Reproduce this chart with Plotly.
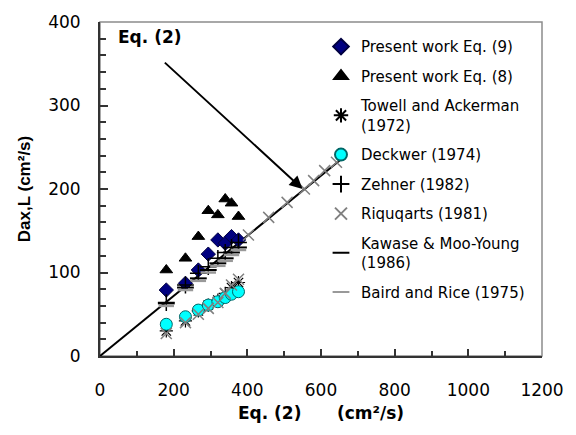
import plotly.graph_objects as go

# ---- data ----
x_vals = [180, 232, 267, 294, 320, 340, 357, 376]

eq9_y = [79, 87, 103, 122, 139, 135, 143, 139]
eq8_y = [103, 117, 143, 174, 169, 188, 183, 167]
towell_y = [30, 42, 54, 61, 67, 75, 82, 88]
deckwer_y = [38, 47, 55, 61, 65, 70, 74, 77]
zehner_y = [64, 85, 99, 107, 117, 124, 130, 136]
kawase_y = [63, 82, 93, 103, 111, 117, 124, 130]
baird_y = [60, 79, 90, 100, 108, 114, 121, 127]

riq_x = [180, 232, 267, 294, 320, 340, 357, 376, 403, 458, 508, 555, 580, 610, 642]
riq_y = [27, 40, 50, 57, 64, 75, 85, 92, 145, 166, 184, 200, 210, 222, 232]

eq2_x = [0, 653]
eq2_y = [0, 235]

arrow_from = (172, 353)
arrow_to = (550, 200)
label_pos = (137, 382)

x_ticks = [0, 200, 400, 600, 800, 1000, 1200]
y_ticks = [0, 100, 200, 300, 400]

LEG_FONT = dict(family="DejaVu Sans", size=15, color="black")

fig = go.Figure()

# Eq. (2) line
fig.add_trace(go.Scatter(x=eq2_x, y=eq2_y, mode="lines",
                         line=dict(color="black", width=2), showlegend=False,
                         hoverinfo="skip", legendgroup="g0"))

def add(name, x, y, marker, group):
    fig.add_trace(go.Scatter(x=x, y=y, mode="markers", name=name,
                             marker=marker, legendgroup=group))

add("Present work Eq. (9)", x_vals, eq9_y,
    dict(symbol="diamond", size=11, color="#000080", line=dict(color="#000040", width=1)), "g1")
add("Present work Eq. (8)", x_vals, eq8_y,
    dict(symbol="triangle-up", size=11, color="black", line=dict(color="black", width=1)), "g2")
add("Towell and Ackerman<br>(1972)", x_vals, towell_y,
    dict(symbol="asterisk", size=11, color="black", line=dict(color="black", width=1.2)), "g3")
add("Deckwer (1974)", x_vals, deckwer_y,
    dict(symbol="circle", size=12, color="#00FFFF", line=dict(color="#006666", width=1)), "g4")
add("Zehner (1982)", x_vals, zehner_y,
    dict(symbol="cross-thin", size=12, color="black", line=dict(color="black", width=1.5)), "g5")
add("Riquqarts (1981)", riq_x, riq_y,
    dict(symbol="x-thin", size=11, color="#808080", line=dict(color="#808080", width=1.5)), "g6")
add("Kawase & Moo-Young<br>(1986)", x_vals, kawase_y,
    dict(symbol="line-ew", size=12, color="black", line=dict(color="black", width=2)), "g7")
add("Baird and Rice (1975)", x_vals, baird_y,
    dict(symbol="line-ew", size=11, color="#999999", line=dict(color="#999999", width=2.5)), "g8")

# arrow + label
fig.add_annotation(x=arrow_to[0], y=arrow_to[1], ax=arrow_from[0], ay=arrow_from[1],
                   xref="x", yref="y", axref="x", ayref="y", text="",
                   showarrow=True, arrowhead=2, arrowsize=1.3, arrowwidth=2,
                   arrowcolor="black")
fig.add_annotation(x=label_pos[0], y=label_pos[1], xref="x", yref="y",
                   text="<b>Eq. (2)</b>", showarrow=False,
                   font=dict(family="DejaVu Sans", size=17, color="black"))

# frame (top/right gray)
fig.add_shape(type="rect", xref="paper", yref="paper", x0=0, x1=1, y0=0, y1=1,
              line=dict(color="#8c8c8c", width=1.5), layer="below")

fig.update_xaxes(range=[0, 1200], tickvals=x_ticks, ticks="inside", ticklen=7,
                 tickwidth=1.5, tickcolor="#333333",
                 minor=dict(ticks="inside", dtick=100, ticklen=5, tickwidth=1.5, tickcolor="#333333"),
                 showgrid=False, zeroline=False, showline=True, linecolor="#333333",
                 linewidth=2, ticklabelstandoff=18,
                 tickfont=dict(family="DejaVu Sans", size=17, color="black"),
                 title=dict(text="<b>Eq. (2)      (cm²/s)</b>", standoff=8,
                            font=dict(family="DejaVu Sans", size=17, color="black")))
fig.update_yaxes(range=[0, 400], tickvals=y_ticks, ticks="inside", ticklen=8,
                 tickwidth=1.5, tickcolor="#333333",
                 minor=dict(ticks="inside", dtick=20, ticklen=6, tickwidth=1.5, tickcolor="#333333"),
                 showgrid=False, zeroline=False, showline=True, linecolor="#333333",
                 linewidth=2, ticklabelstandoff=14,
                 tickfont=dict(family="DejaVu Sans", size=17, color="black"),
                 title=dict(text="<b>Dax,L (cm²/s)</b>", standoff=13,
                            font=dict(family="Liberation Sans", size=17, color="black")))

fig.update_layout(
    width=576, height=435,
    margin=dict(l=100, r=29, t=16, b=79),
    paper_bgcolor="white", plot_bgcolor="white",
    showlegend=True,
    legend=dict(x=0.5, y=0.975, xanchor="left", yanchor="top",
                bgcolor="rgba(0,0,0,0)", font=LEG_FONT,
                tracegroupgap=7, itemwidth=30, traceorder="grouped",
                itemsizing="constant"),
)

fig.write_html("out.html")
